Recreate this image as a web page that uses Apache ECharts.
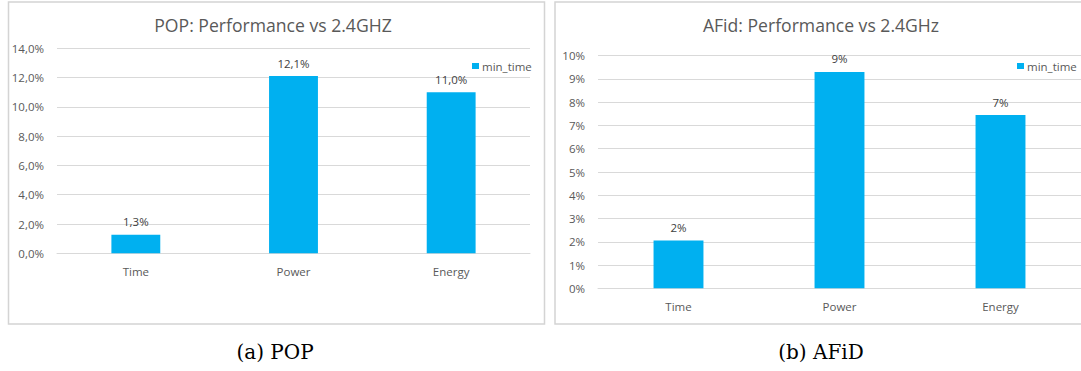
<!DOCTYPE html>
<html>
<head>
<meta charset="utf-8">
<script src="https://cdn.jsdelivr.net/npm/echarts@6/dist/echarts.min.js"></script>
<style>
html,body{margin:0;padding:0;background:#fff;}
#c{width:1081px;height:371px;}
</style>
</head>
<body>
<div id="c"></div>
<script>
// ---- data ----
const categories = ['Time', 'Power', 'Energy'];
const popValues = [1.26, 12.1, 11.0];      // percent
const afidValues = [2.06, 9.3, 7.45];      // percent
const popTicks = { min: 0, max: 14, interval: 2 };
const afidTicks = { min: 0, max: 10, interval: 1 };
const seriesName = 'min_time';
const popTitle = 'POP: Performance vs 2.4GHZ';
const afidTitle = 'AFid: Performance vs 2.4GHz';
const popCaption = '(a) POP';
const afidCaption = '(b) AFiD';

const FONT = '"Open Sans", Lato, sans-serif';
const GREY = '#595959';
const GRID = '#d9d9d9';
const BAR = '#00b0f0';

const fmtComma = v => v.toFixed(1).replace('.', ',') + '%';
const fmtInt = v => Math.round(v) + '%';

const chart = echarts.init(document.getElementById('c'), null, { renderer: 'svg' });

function xAxis(gi) {
  return {
    type: 'category', gridIndex: gi, data: categories,
    axisLine: { show: true, lineStyle: { color: GRID, width: 1 } },
    axisTick: { show: false },
    axisLabel: { color: GREY, fontFamily: FONT, fontSize: 11.5, margin: 12 }
  };
}
function yAxis(gi, t, fmt) {
  return {
    type: 'value', gridIndex: gi, min: t.min, max: t.max, interval: t.interval,
    axisLine: { show: false }, axisTick: { show: false },
    splitLine: { lineStyle: { color: GRID, width: 1 } },
    axisLabel: { color: GREY, fontFamily: FONT, fontSize: 11.5, margin: 13, formatter: fmt }
  };
}
function legend(left) {
  return {
    left: left, top: 55, data: [seriesName],
    icon: 'rect', itemWidth: 7, itemHeight: 6, itemGap: 5,
    textStyle: { color: GREY, fontFamily: FONT, fontSize: 11.5, padding: [0, 0, 0, -2] },
    selectedMode: false
  };
}
function bar(gi, vals, fmt) {
  return {
    name: seriesName, type: 'bar', xAxisIndex: gi, yAxisIndex: gi,
    data: vals, barWidth: '31%', itemStyle: { color: BAR },
    label: { show: true, position: 'top', distance: 7, color: '#404040',
             fontFamily: FONT, fontSize: 11.5, formatter: p => fmt(p.value) },
    silent: true, animation: false
  };
}
function txt(x, y, s, size, color, family) {
  return { type: 'text', x: x, y: y, silent: true,
    style: { text: s, fill: color, font: size + 'px ' + family, align: 'center', verticalAlign: 'middle' } };
}
function frame(x, y, w, h) {
  return { type: 'rect', silent: true, shape: { x: x, y: y, width: w, height: h },
    style: { fill: 'none', stroke: '#d4d4d4', lineWidth: 1.5 } };
}

chart.setOption({
  animation: false,
  grid: [
    { left: 57, top: 48.3, width: 473, height: 205 },
    { left: 598, top: 55.7, width: 486, height: 232.6 }
  ],
  xAxis: [xAxis(0), xAxis(1)],
  yAxis: [yAxis(0, popTicks, fmtComma), yAxis(1, afidTicks, fmtInt)],
  legend: [legend(467), legend(1012)],
  series: [bar(0, popValues, fmtComma), bar(1, afidValues, fmtInt)],
  graphic: [
    frame(8.5, 2, 536, 322),
    frame(555, 2, 540, 322),
    txt(273, 25, popTitle, 17.6, GREY, FONT),
    txt(821, 25, afidTitle, 17.6, GREY, FONT),
    txt(275, 352, popCaption, 20, '#000', '"DejaVu Serif", serif'),
    txt(821, 352, afidCaption, 20, '#000', '"DejaVu Serif", serif')
  ]
});
</script>
</body>
</html>
